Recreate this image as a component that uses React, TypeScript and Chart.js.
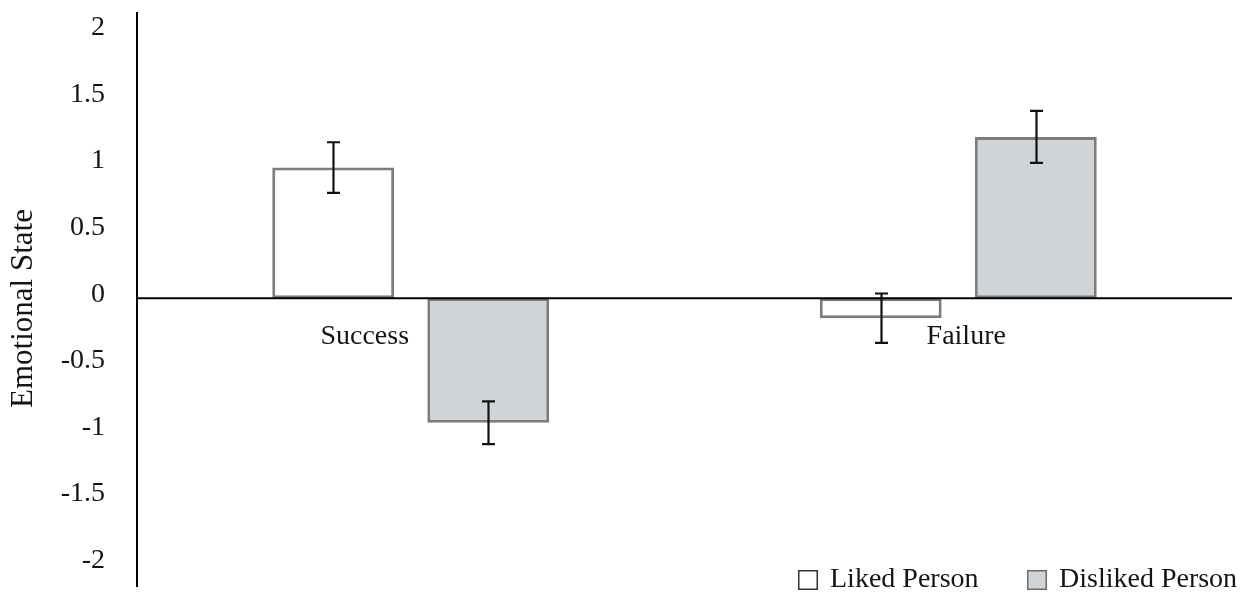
import React, { useEffect, useRef } from "react";
import { Chart, registerables } from "chart.js";

Chart.register(...registerables);

const categories = ["Success", "Failure"];
const seriesNames = ["Liked Person", "Disliked Person"];
const likedValues = [0.98, -0.15];
const likedErrors = [0.19, 0.185];
const dislikedValues = [-0.935, 1.21];
const dislikedErrors = [0.16, 0.195];
const yTicks = [2, 1.5, 1, 0.5, 0, -0.5, -1, -1.5, -2];
const yTitle = "Emotional State";

const FONT = '"Liberation Serif", "Times New Roman", Times, serif';
const TEXT = "#141414";
const BAR_BORDER = "#7c7c7c";
const DISLIKED_FILL = "#d1d4d7";
const LIKED_FILL = "#ffffff";
const CAT_LABEL_OFFSETS = [-46, 8];

const errorsByDataset = [likedErrors, dislikedErrors];

const overlayPlugin = {
  id: "overlay",
  afterDatasetsDraw(chart: any) {
    const ctx = chart.ctx;
    const yScale = chart.scales.y;
    const area = chart.chartArea;
    const zeroY = yScale.getPixelForValue(0);
    ctx.save();
    // zero line
    ctx.strokeStyle = "#000";
    ctx.lineWidth = 2;
    ctx.beginPath();
    ctx.moveTo(area.left, zeroY);
    ctx.lineTo(area.right, zeroY);
    ctx.stroke();
    // error bars
    ctx.strokeStyle = "#111";
    ctx.lineWidth = 2.2;
    chart.data.datasets.forEach((ds: any, di: number) => {
      const meta = chart.getDatasetMeta(di);
      meta.data.forEach((el: any, i: number) => {
        const v = ds.data[i];
        const e = errorsByDataset[di][i];
        const yt = yScale.getPixelForValue(v + e);
        const yb = yScale.getPixelForValue(v - e);
        const x = Math.round(el.x) + 0.5;
        ctx.beginPath();
        ctx.moveTo(x, yt);
        ctx.lineTo(x, yb);
        ctx.moveTo(x - 6.5, yt);
        ctx.lineTo(x + 6.5, yt);
        ctx.moveTo(x - 6.5, yb);
        ctx.lineTo(x + 6.5, yb);
        ctx.stroke();
      });
    });
    // category labels just below zero line
    const xScale = chart.scales.x;
    ctx.fillStyle = TEXT;
    ctx.font = `28px ${FONT}`;
    ctx.textAlign = "center";
    ctx.textBaseline = "middle";
    categories.forEach((c, i) => {
      const cx = xScale.getPixelForValue(i) + CAT_LABEL_OFFSETS[i];
      ctx.fillText(c, cx, zeroY + 38);
    });
    ctx.restore();
  },
  afterDraw(chart: any) {
    const ctx = chart.ctx;
    const yScale = chart.scales.y;
    ctx.save();
    // y title
    ctx.fillStyle = TEXT;
    ctx.font = `31px ${FONT}`;
    ctx.textAlign = "center";
    ctx.textBaseline = "middle";
    ctx.translate(24, (yScale.top + yScale.bottom) / 2 + 9);
    ctx.rotate(-Math.PI / 2);
    ctx.fillText(yTitle, 0, 0);
    ctx.restore();

    // legend
    ctx.save();
    const legendX = [798, 1027];
    const boxY = 570;
    const box = 20;
    ctx.font = `28px ${FONT}`;
    ctx.textAlign = "left";
    ctx.textBaseline = "middle";
    chart.data.datasets.forEach((ds: any, di: number) => {
      const x = legendX[di];
      ctx.fillStyle = ds.backgroundColor;
      ctx.fillRect(x, boxY, box, box);
      ctx.strokeStyle = di === 0 ? "#333" : "#6a6a6a";
      ctx.lineWidth = 1.5;
      ctx.strokeRect(x + 0.75, boxY + 0.75, box - 1.5, box - 1.5);
      ctx.fillStyle = TEXT;
      ctx.fillText(ds.label, x + 32, boxY + 10);
    });
    ctx.restore();
  },
};

export default function App() {
  const canvasRef = useRef<HTMLCanvasElement | null>(null);

  useEffect(() => {
    const canvas = canvasRef.current;
    if (!canvas) return;
    const chart = new Chart(canvas, {
      type: "bar",
      data: {
        labels: categories,
        datasets: [
          {
            label: seriesNames[0],
            data: likedValues,
            backgroundColor: LIKED_FILL,
            borderColor: BAR_BORDER,
            borderWidth: 3,
            borderSkipped: false,
            categoryPercentage: 0.5665,
            barPercentage: 0.786,
          },
          {
            label: seriesNames[1],
            data: dislikedValues,
            backgroundColor: DISLIKED_FILL,
            borderColor: BAR_BORDER,
            borderWidth: 3,
            borderSkipped: false,
            categoryPercentage: 0.5665,
            barPercentage: 0.786,
          },
        ],
      },
      options: {
        responsive: false,
        animation: false,
        devicePixelRatio: 1,
        layout: { padding: { top: 13, bottom: 6, left: 0, right: 10 } },
        plugins: {
          legend: { display: false },
          tooltip: { enabled: false },
        },
        scales: {
          x: {
            type: "category",
            display: false,
            grid: { display: false },
          },
          y: {
            type: "linear",
            min: -2.16,
            max: 2.14,
            grid: { display: false, drawTicks: false },
            border: { display: true, color: "#000", width: 2 },
            ticks: {
              color: TEXT,
              padding: 32,
              labelOffset: -4,
              font: { family: FONT, size: 28 },
              callback: (v: any) => String(v),
            },
            afterBuildTicks: (scale: any) => {
              scale.ticks = yTicks.map((v) => ({ value: v }));
            },
            afterFit: (scale: any) => {
              scale.width = 137;
              scale.paddingTop = 0;
              scale.paddingBottom = 0;
            },
          },
        },
      },
      plugins: [overlayPlugin],
    });
    return () => chart.destroy();
  }, []);

  return (
    <div
      style={{
        position: "absolute",
        left: 0,
        top: 0,
        width: 1242,
        height: 592,
        background: "#fff",
      }}
    >
      <canvas ref={canvasRef} width={1242} height={592} style={{ display: "block" }} />
    </div>
  );
}
